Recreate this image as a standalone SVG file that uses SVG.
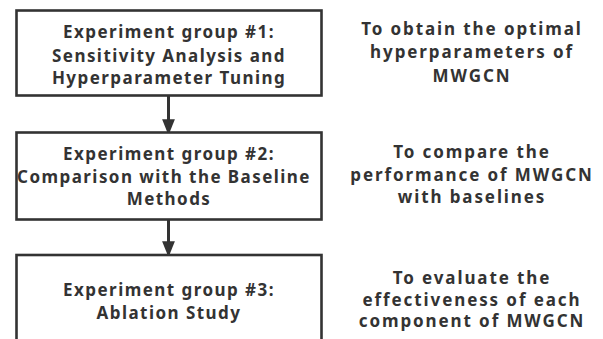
<svg xmlns="http://www.w3.org/2000/svg" width="603" height="339" viewBox="0 0 603 339">
<style>
.box{fill:#fff;stroke:#333;stroke-width:2.6}
.t{font-family:"Noto Sans","Open Sans",sans-serif;font-weight:bold;font-size:17px;fill:#333;text-anchor:middle;letter-spacing:1.45px}
.r{letter-spacing:1.9px}
.c{stroke:#333;stroke-width:3;fill:none}
</style>
<defs>
<marker id="ah" markerUnits="userSpaceOnUse" markerWidth="16" markerHeight="20" refX="16" refY="8" orient="auto" viewBox="0 0 20 16">
<path d="M0,0 L20,8 L0,16 Z" fill="#333"/>
</marker>
</defs>
<rect width="603" height="339" fill="#fff"/>
<g id="connectors">
<line class="c" x1="168.5" y1="96" x2="168.5" y2="132" marker-end="url(#ah)"/>
<line class="c" x1="168.5" y1="219" x2="168.5" y2="254" marker-end="url(#ah)"/>
</g>
<g id="node1">
<rect class="box" x="16.5" y="10.5" width="305" height="85"/>
<text class="t" x="169" y="38">Experiment group #1:</text>
<text class="t" x="169" y="61.5">Sensitivity Analysis and</text>
<text class="t" x="169" y="83.5">Hyperparameter Tuning</text>
</g>
<g id="node2">
<rect class="box" x="16.5" y="132.5" width="305" height="87"/>
<text class="t" x="169" y="160">Experiment group #2:</text>
<text class="t" x="164" y="182.5">Comparison with the Baseline </text>
<text class="t" x="169" y="204.5">Methods</text>
</g>
<g id="node3">
<rect class="box" x="16.5" y="255" width="305" height="100"/>
<text class="t" x="169" y="296">Experiment group #3:</text>
<text class="t" x="169" y="318.5">Ablation Study</text>
</g>
<g id="goal1">
<text class="t r" x="472" y="35">To obtain the optimal</text>
<text class="t r" x="472" y="58">hyperparameters of</text>
<text class="t r" x="472" y="81.5">MWGCN</text>
</g>
<g id="goal2">
<text class="t r" x="472" y="158">To compare the</text>
<text class="t r" x="472" y="180.5">performance of MWGCN</text>
<text class="t r" x="472" y="202.5">with baselines</text>
</g>
<g id="goal3">
<text class="t r" x="472" y="284">To evaluate the</text>
<text class="t r" x="472" y="305.5">effectiveness of each</text>
<text class="t r" x="472" y="327">component of MWGCN</text>
</g>
</svg>
